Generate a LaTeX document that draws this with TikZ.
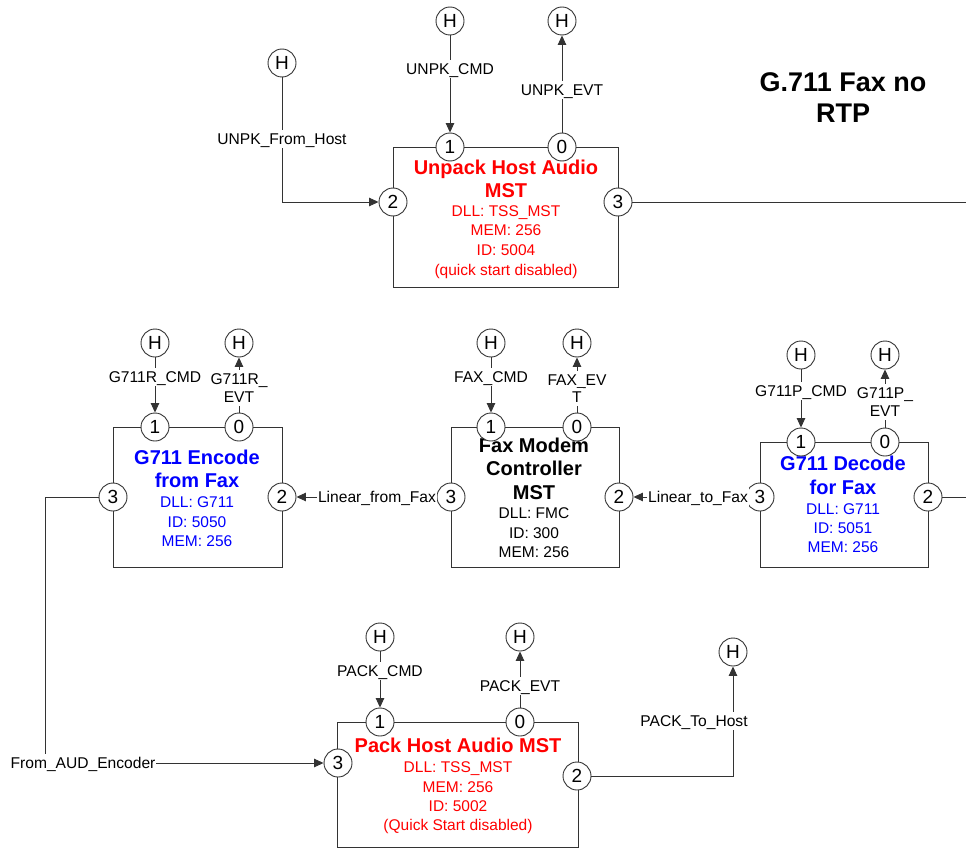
\documentclass[tikz,border=0pt]{standalone}
\usepackage{fontspec}
\setmainfont{Liberation Sans}
\usetikzlibrary{arrows.meta}
\definecolor{ln}{gray}{0.2}
\definecolor{tred}{RGB}{255,0,0}
\definecolor{tblue}{RGB}{0,0,255}
\tikzset{
  mst/.style={draw=ln, line width=0.9pt, inner sep=0pt},
  port/.style={circle, draw=ln, line width=0.9pt, fill=white, minimum size=28pt, inner sep=0pt, font=\fontsize{19}{22}\selectfont},
  host/.style={port, font=\fontsize{19}{22}\selectfont},
  ttl/.style={inner sep=0pt, text height=14.3pt, text depth=0pt, font=\fontsize{20}{24}\bfseries\selectfont},
  det/.style={inner sep=0pt, text height=11.1pt, text depth=0pt, font=\fontsize{15.5}{19}\selectfont},
  lbl/.style={fill=white, inner xsep=1pt, inner ysep=3pt, text height=11.2pt, text depth=0pt, font=\fontsize{15.6}{18}\selectfont},
  conn/.style={draw=ln, line width=0.9pt},
  arr/.style={conn, -{Triangle[length=9.5pt,width=8.5pt]}},
  bigttl/.style={inner sep=0pt, text height=19.3pt, text depth=0pt, font=\fontsize{27}{31}\bfseries\selectfont}
}
\begin{document}
\begin{tikzpicture}[x=1pt,y=-1pt]
\useasboundingbox (0,0) rectangle (966,848);

% ---------- boxes ----------
\node[mst, minimum width=225pt, minimum height=140pt] (unpk) at (505.5,217) {};
\node[mst, minimum width=169pt, minimum height=140pt] (enc) at (197.5,497) {};
\node[mst, minimum width=168pt, minimum height=140pt] (fax) at (535,497) {};
\node[mst, minimum width=168pt, minimum height=125pt] (dec) at (844,504.5) {};
\node[mst, minimum width=241pt, minimum height=125pt] (pack) at (457.5,784.5) {};

% ---------- box texts ----------
\node[ttl, text=tred] (unpkT1) at (506,167) {Unpack Host Audio};
\node[ttl, text=tred] (unpkT2) at (506,190) {MST};
\node[det, text=tred] (unpkD1) at (506,211) {DLL: TSS\_MST};
\node[det, text=tred] (unpkD2) at (506,230) {MEM: 256};
\node[det, text=tred] (unpkD3) at (506,250) {ID: 5004};
\node[det, text=tred] (unpkD4) at (506,270) {(quick start disabled)};

\node[ttl, text=tblue] (encT1) at (197,457) {G711 Encode};
\node[ttl, text=tblue] (encT2) at (197,480) {from Fax};
\node[det, text=tblue] (encD1) at (197,502) {DLL: G711};
\node[det, text=tblue] (encD2) at (197,522) {ID: 5050};
\node[det, text=tblue] (encD3) at (197,541) {MEM: 256};

\node[ttl] (faxT1) at (534,445) {Fax Modem};
\node[ttl] (faxT2) at (534,468) {Controller};
\node[ttl] (faxT3) at (534,492) {MST};
\node[det] (faxD1) at (534,513) {DLL: FMC};
\node[det] (faxD2) at (534,533) {ID: 300};
\node[det] (faxD3) at (534,552) {MEM: 256};

\node[ttl, text=tblue] (decT1) at (843,463) {G711 Decode};
\node[ttl, text=tblue] (decT2) at (843,487) {for Fax};
\node[det, text=tblue] (decD1) at (843,509) {DLL: G711};
\node[det, text=tblue] (decD2) at (843,528) {ID: 5051};
\node[det, text=tblue] (decD3) at (843,547) {MEM: 256};

\node[ttl, text=tred] (packT1) at (458,745) {Pack Host Audio MST};
\node[det, text=tred] (packD1) at (458,767) {DLL: TSS\_MST};
\node[det, text=tred] (packD2) at (458,787) {MEM: 256};
\node[det, text=tred] (packD3) at (458,806) {ID: 5002};
\node[det, text=tred] (packD4) at (458,825) {(Quick Start disabled)};

\node[bigttl] (titleA) at (843,82) {G.711 Fax no};
\node[bigttl] (titleB) at (843,113) {RTP};

% ---------- ports ----------
\node[port] (uP1) at (450,147) {1};
\node[port] (uP0) at (562,147) {0};
\node[port] (uP2) at (393,202) {2};
\node[port] (uP3) at (618,202) {3};

\node[port] (eP1) at (155,427) {1};
\node[port] (eP0) at (239,427) {0};
\node[port] (eP3) at (113,497) {3};
\node[port] (eP2) at (282,497) {2};

\node[port] (fP1) at (491,427) {1};
\node[port] (fP0) at (577,427) {0};
\node[port] (fP3) at (451,497) {3};
\node[port] (fP2) at (619,497) {2};

\node[port] (dP1) at (801,442) {1};
\node[port] (dP0) at (885,442) {0};
\node[port] (dP3) at (760,497) {3};
\node[port] (dP2) at (928,497) {2};

\node[port] (pP1) at (380,722) {1};
\node[port] (pP0) at (520,722) {0};
\node[port] (pP3) at (338,763) {3};
\node[port] (pP2) at (577,776) {2};

% ---------- host circles ----------
\node[host] (hU1) at (450,21) {H};
\node[host] (hU0) at (562,21) {H};
\node[host] (hUF) at (282,63) {H};
\node[host] (hE1) at (155,343) {H};
\node[host] (hE0) at (239,343) {H};
\node[host] (hF1) at (491,343) {H};
\node[host] (hF0) at (577,343) {H};
\node[host] (hD1) at (801,355) {H};
\node[host] (hD0) at (885,355) {H};
\node[host] (hP1) at (380,637) {H};
\node[host] (hP0) at (520,637) {H};
\node[host] (hPT) at (733,652) {H};

% ---------- free ends ----------
\coordinate (eU) at (966,202);
\coordinate (eD) at (966,497);
\coordinate (bl1) at (45,497);
\coordinate (bl2) at (45,763);

% ---------- connectors ----------
\draw[arr] (hU1) -- (uP1);
\draw[arr] (uP0) -- (hU0);
\draw[arr] (hUF) |- (uP2);
\draw[conn] (uP3) -- (eU);

\draw[arr] (hE1) -- (eP1);
\draw[arr] (eP0) -- (hE0);
\draw[arr] (hF1) -- (fP1);
\draw[arr] (fP0) -- (hF0);
\draw[arr] (hD1) -- (dP1);
\draw[arr] (dP0) -- (hD0);
\draw[arr] (hP1) -- (pP1);
\draw[arr] (pP0) -- (hP0);

\draw[arr] (fP3) -- (eP2);
\draw[arr] (dP3) -- (fP2);
\draw[conn] (dP2) -- (eD);
\draw[arr] (eP3) -- (bl1) -- (bl2) -- (pP3);
\draw[arr] (pP2) -| (hPT);

% ---------- labels ----------
\node[lbl] (lUC) at (450,69) {UNPK\_CMD};
\node[lbl] (lUE) at (562,90) {UNPK\_EVT};
\node[lbl] (lUF) at (282,139) {UNPK\_From\_Host};
\node[lbl] (lEC) at (155,377) {G711R\_CMD};
\node[lbl] (lEE1) at (239,379) {G711R\_};
\node[lbl] (lEE2) at (239,397) {EVT};
\node[lbl] (lFC) at (491,377) {FAX\_CMD};
\node[lbl] (lFE1) at (577,380) {FAX\_EV};
\node[lbl] (lFE2) at (577,397) {T};
\node[lbl] (lDC) at (801,391) {G711P\_CMD};
\node[lbl] (lDE1) at (885,393) {G711P\_};
\node[lbl] (lDE2) at (885,411) {EVT};
\node[lbl] (lLF) at (377,497) {Linear\_from\_Fax};
\node[lbl] (lLT) at (698,497) {Linear\_to\_Fax};
\node[lbl] (lAE) at (83,763) {From\_AUD\_Encoder};
\node[lbl] (lPC) at (380,671) {PACK\_CMD};
\node[lbl] (lPE) at (520,686) {PACK\_EVT};
\node[lbl] (lPT) at (694,721) {PACK\_To\_Host};
\end{tikzpicture}
\end{document}
